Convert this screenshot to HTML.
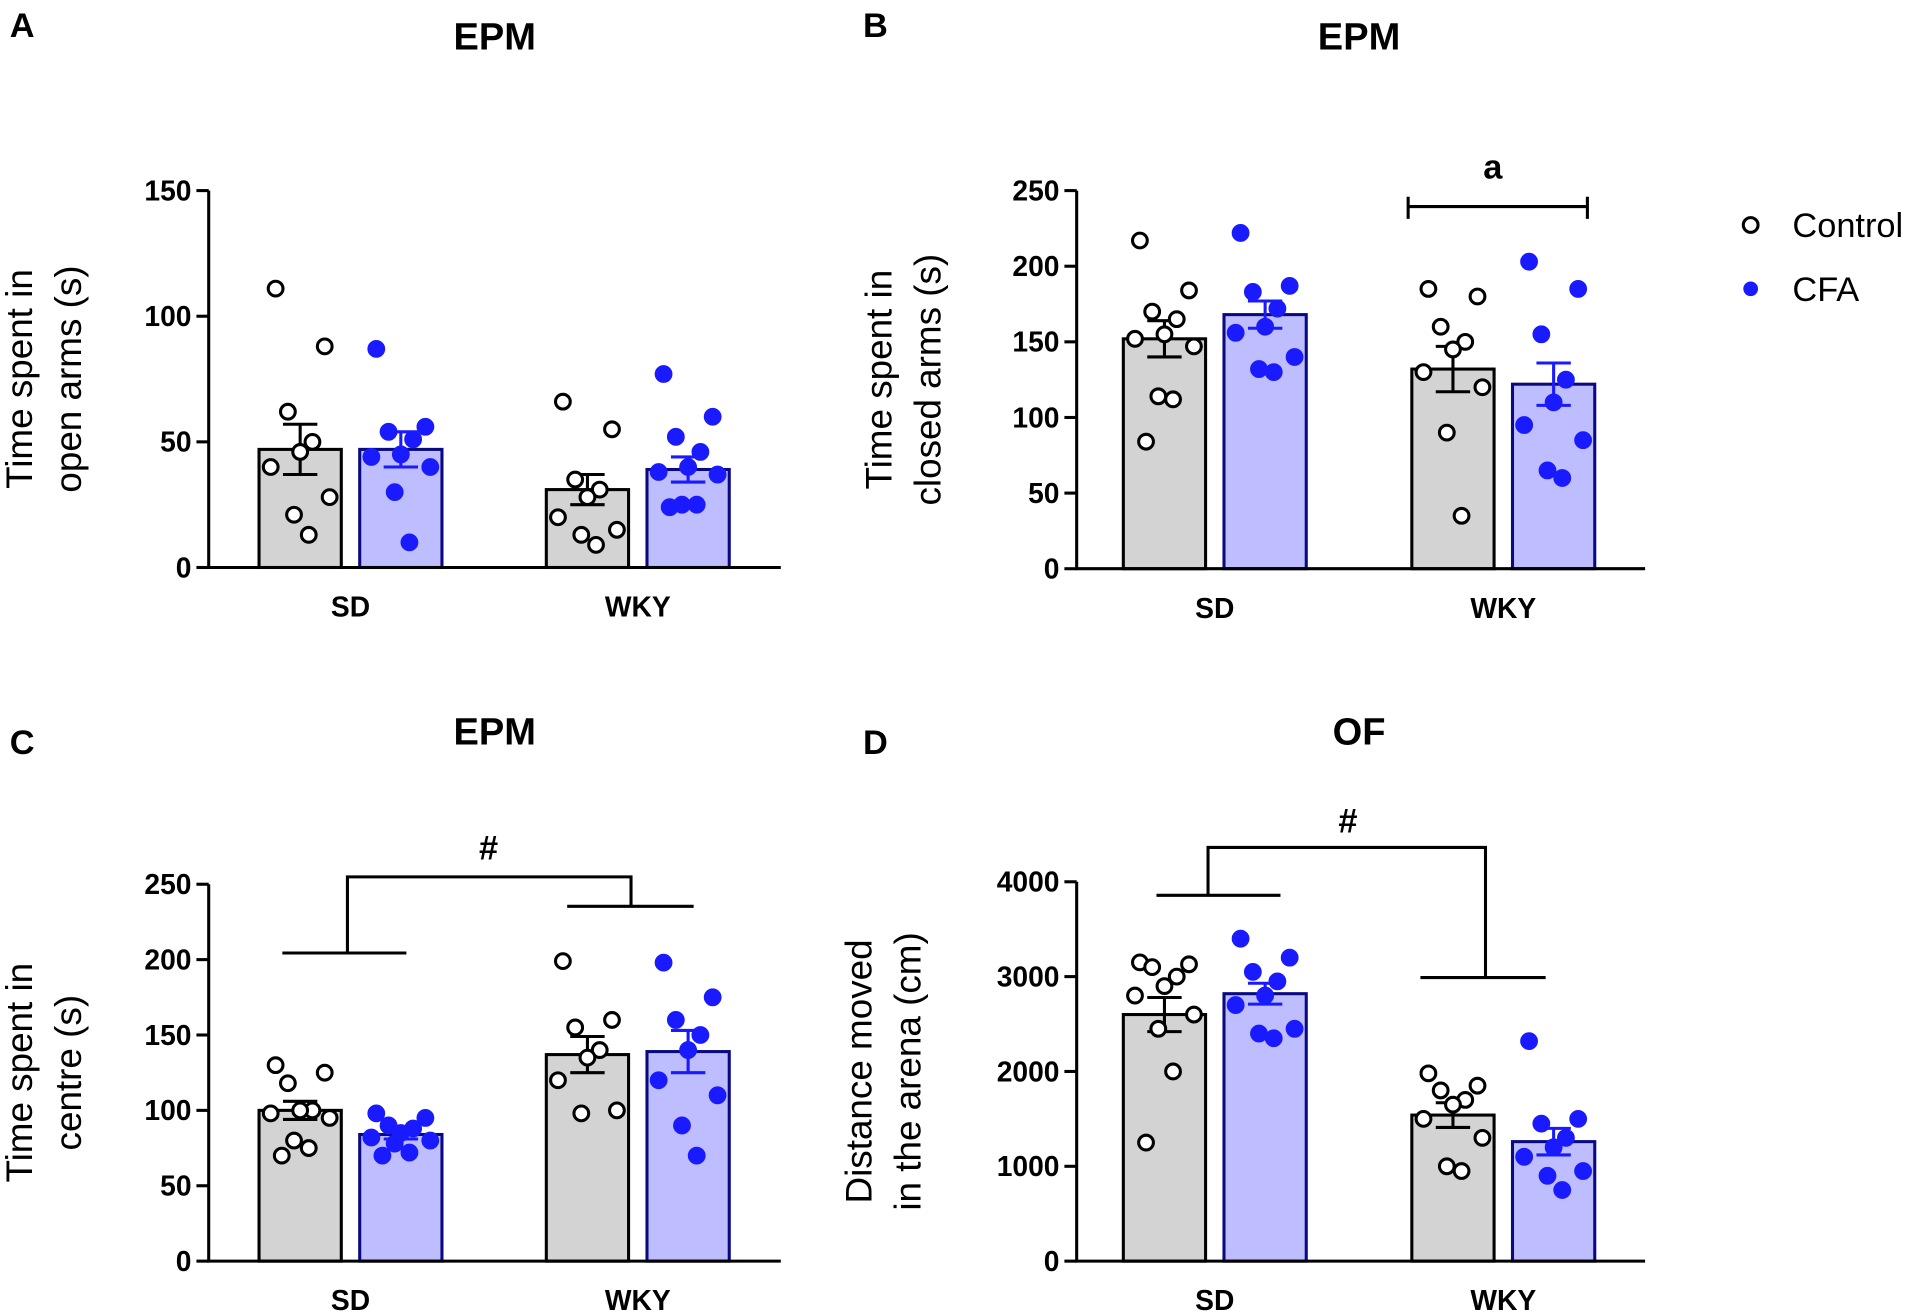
<!DOCTYPE html>
<html><head><meta charset="utf-8">
<style>
html,body{margin:0;padding:0;background:#fff;}
svg{display:block;font-family:"Liberation Sans",Arial,sans-serif;}
</style></head>
<body>
<svg id="fig" width="1925" height="1313" viewBox="0 0 1568 1069" xmlns="http://www.w3.org/2000/svg">
 <g>
  <circle cx="1426" cy="183" r="6" fill="#fff" stroke="#000" stroke-width="2.5"/>
  <text x="1460" y="193" font-size="28">Control</text>
  <circle cx="1426" cy="235" r="6" fill="#1a1aff"/>
  <text x="1460" y="245" font-size="28">CFA</text>
 </g>
</svg>
<script>
// Panel A: open arms (s)
const catsA = ["SD","WKY"];
const meanCtrlA = [47, 31];
const semCtrlA = [10, 6];
const meanCfaA = [47, 39];
const semCfaA = [7, 5];
const ptsCtrlA = [[111,88,62,50,46,40,28,21,13],[66,55,35,31,28,20,15,13,9]];
const ptsCfaA = [[87,56,54,51,45,44,40,30,10],[77,60,52,46,40,38,37,25,25,24]];
const ticksA = [0,50,100,150];
// Panel B: closed arms (s)
const meanCtrlB = [152, 132];
const semCtrlB = [12, 15];
const meanCfaB = [168, 122];
const semCfaB = [9, 14];
const ptsCtrlB = [[217,184,170,165,155,152,147,114,112,84],[185,180,160,150,145,130,120,90,35]];
const ptsCfaB = [[222,187,183,172,160,156,140,132,130],[203,185,155,125,110,95,85,65,60]];
const ticksB = [0,50,100,150,200,250];
// Panel C: centre (s)
const meanCtrlC = [100, 137];
const semCtrlC = [6, 12];
const meanCfaC = [84, 139];
const semCfaC = [3, 14];
const ptsCtrlC = [[130,125,118,100,100,98,95,80,75,70],[199,160,155,140,135,120,100,98]];
const ptsCfaC = [[98,95,90,88,85,82,80,78,72,70],[198,175,160,150,140,120,110,90,70]];
const ticksC = [0,50,100,150,200,250];
// Panel D: distance (cm)
const meanCtrlD = [2600, 1540];
const semCtrlD = [180, 130];
const meanCfaD = [2820, 1260];
const semCfaD = [110, 140];
const ptsCtrlD = [[3150,3130,3100,3000,2900,2800,2600,2450,2000,1250],[1980,1850,1800,1700,1650,1500,1300,1000,950]];
const ptsCfaD = [[3400,3200,3050,2950,2800,2700,2450,2400,2350],[2320,1500,1450,1300,1200,1100,950,900,750]];
const ticksD = [0,1000,2000,3000,4000];

const NS="http://www.w3.org/2000/svg";
const svg=document.getElementById('fig');
function mk(tag,attrs,parent){const e=document.createElementNS(NS,tag);for(const k in attrs)e.setAttribute(k,attrs[k]);(parent||svg).appendChild(e);return e;}
const jit=[-20,20,-10,10,0,-24,24,-5,7,-15];

function panel(o){
  const g=mk('g',{});
  
  
  const yMax=o.ticks[o.ticks.length-1];
  const y=v=>o.y0-(v/yMax)*(o.y0-o.y1);
  let t=mk('text',{x:o.tx,y:o.ty,'font-size':31,'font-weight':'bold','text-anchor':'middle'},g);t.textContent=o.title;
  
  t=mk('text',{x:o.lx,y:o.ly,'font-size':28,'font-weight':'bold'},g);t.textContent=o.letter;
  
  const yl=mk('text',{transform:`translate(${o.ylx},${(o.y0+o.y1)/2}) rotate(-90)`,'font-size':30,'text-anchor':'middle'},g);
  
  o.ylab.forEach((s,i)=>{const ts=mk('tspan',{x:0,y:i*40},yl);ts.textContent=s;});
  const groups=[[o.bx[0],o.bx[1]],[o.bx[2],o.bx[3]]];
  const W=67;
  for(let c=0;c<2;c++){
    [[o.mC,o.sC,o.pC,'#d3d3d3','#000','ctrl'],[o.mF,o.sF,o.pF,'#bdbdff','#0a0a80','cfa']].forEach((s,si)=>{
      const x=groups[c][si];const cx=x+W/2;
      const r=mk('rect',{x:x,y:y(s[0][c]),width:W,height:o.y0-y(s[0][c]),fill:s[3],stroke:s[4],'stroke-width':2.5},g);
      
      const ec=si?'#1a1aff':'#000';
      const hi=y(s[0][c]+s[1][c]),lo=y(s[0][c]-s[1][c]);
      const eb=mk('path',{d:`M${cx},${hi}V${lo}M${cx-14},${hi}H${cx+14}M${cx-14},${lo}H${cx+14}`,stroke:ec,'stroke-width':2.5,fill:'none'},g);
      
      s[2][c].forEach((v,i)=>{
        const p=mk('circle',{cx:cx+jit[i%jit.length],cy:y(v),r:6,fill:si?'#1a1aff':'#fff',stroke:si?'#1a1aff':'#000','stroke-width':2.5},g);
        
      });
    });
    const cl=mk('text',{x:(groups[c][0]+groups[c][1]+W)/2,y:o.y0+40,'font-size':23,'font-weight':'bold','text-anchor':'middle'},g);
    cl.textContent=o.cats[c];
  }
  const ax=mk('path',{d:`M${o.ax},${o.y1}V${o.y0}H${o.axEnd}`,stroke:'#000','stroke-width':2.5,fill:'none'},g);
  
  o.ticks.forEach(v=>{
    mk('line',{x1:o.ax-10,x2:o.ax,y1:y(v),y2:y(v),stroke:'#000','stroke-width':2.5},g);
    const tl=mk('text',{x:o.ax-14,y:y(v)+8,'font-size':23,'font-weight':'bold','text-anchor':'end'},g);
    tl.textContent=v;
  });
  if(o.extra){const e=mk('path',{d:o.extra,stroke:'#000','stroke-width':2.5,fill:'none'},g);
    const s=mk('text',{x:o.sx,y:o.sy,'font-size':28,'font-weight':'bold','text-anchor':'middle'},g);s.textContent=o.sym;}
}
panel({name:'panel-a',letter:'A',lx:8,ly:30,title:'EPM',tx:403,ty:40,ylx:26,ylab:['Time spent in','open arms (s)'],
 ax:170,axEnd:636,y0:462,y1:155,ticks:ticksA,bx:[211,293,445,527],cats:catsA,
 mC:meanCtrlA,sC:semCtrlA,mF:meanCfaA,sF:semCfaA,pC:ptsCtrlA,pF:ptsCfaA});
panel({name:'panel-b',letter:'B',lx:703,ly:30,title:'EPM',tx:1107,ty:40,ylx:726,ylab:['Time spent in','closed arms (s)'],
 ax:877,axEnd:1340,y0:463,y1:155,ticks:ticksB,bx:[915,997,1150,1232],cats:catsA,
 mC:meanCtrlB,sC:semCtrlB,mF:meanCfaB,sF:semCfaB,pC:ptsCtrlB,pF:ptsCfaB,
 extra:'M1147,160V178M1147,168H1293M1293,160V178',sym:'a',sx:1216,sy:145});
panel({name:'panel-c',letter:'C',lx:8,ly:614,title:'EPM',tx:403,ty:606,ylx:26,ylab:['Time spent in','centre (s)'],
 ax:170,axEnd:636,y0:1027,y1:720,ticks:ticksC,bx:[211,293,445,527],cats:catsA,
 mC:meanCtrlC,sC:semCtrlC,mF:meanCfaC,sF:semCfaC,pC:ptsCtrlC,pF:ptsCfaC,
 extra:'M230,776H331M462,738H565M283,776V714H514V738',sym:'#',sx:398,sy:700});
panel({name:'panel-d',letter:'D',lx:703,ly:614,title:'OF',tx:1107,ty:606,ylx:710,ylab:['Distance moved','in the arena (cm)'],
 ax:877,axEnd:1340,y0:1027,y1:718,ticks:ticksD,bx:[915,997,1150,1232],cats:catsA,
 mC:meanCtrlD,sC:semCtrlD,mF:meanCfaD,sF:semCfaD,pC:ptsCtrlD,pF:ptsCfaD,
 extra:'M942,729H1043M1157,796H1259M984,729V690H1210V796',sym:'#',sx:1098,sy:678});
</script>
</body></html>
